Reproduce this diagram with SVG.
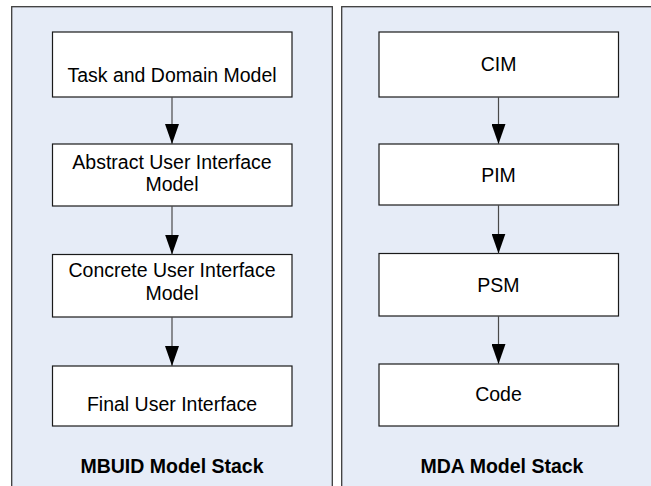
<svg xmlns="http://www.w3.org/2000/svg" width="651" height="486" viewBox="0 0 651 486">
<style>
.panel{fill:#e6ecf7;stroke:#3c3c3c;stroke-width:1.3}
.box{fill:#ffffff;stroke:#1a1a1a;stroke-width:1.2}
.t{font-family:"Liberation Sans",Arial,sans-serif;font-size:19.5px;fill:#000;text-anchor:middle}
.b{font-family:"Liberation Sans",Arial,sans-serif;font-size:19.5px;font-weight:bold;fill:#000;text-anchor:middle}
.c{stroke:#4a4a4a;stroke-width:1.2;fill:none;marker-end:url(#ah)}
</style>
<defs>
<marker id="ah" markerUnits="userSpaceOnUse" markerWidth="20" markerHeight="14" refX="20" refY="7" orient="auto" viewBox="0 0 20 14">
<path d="M0,0 L20,7 L0,14 Z" fill="#000"/>
</marker>
</defs>
<g id="panel-mbuid">
<rect class="panel" x="11.7" y="6.7" width="320.6" height="500"/>
<text class="b" x="172" y="473">MBUID Model Stack</text>
</g>
<g id="panel-mda">
<rect class="panel" x="341.7" y="6.7" width="330" height="500"/>
<text class="b" x="502" y="473">MDA Model Stack</text>
</g>
<g id="task-domain">
<rect class="box" x="52.5" y="32" width="239.5" height="65"/>
<text class="t" x="172" y="82">Task and Domain Model</text>
</g>
<g id="abstract-ui">
<rect class="box" x="52.5" y="144" width="239.5" height="62"/>
<text class="t" x="172" y="168.5">Abstract User Interface</text>
<text class="t" x="172" y="190.5">Model</text>
</g>
<g id="concrete-ui">
<rect class="box" x="52.5" y="254.5" width="239.5" height="62.5"/>
<text class="t" x="172" y="277">Concrete User Interface</text>
<text class="t" x="172" y="300">Model</text>
</g>
<g id="final-ui">
<rect class="box" x="52.5" y="366" width="239.5" height="60"/>
<text class="t" x="172" y="411">Final User Interface</text>
</g>
<g id="cim">
<rect class="box" x="379" y="32" width="239.5" height="65"/>
<text class="t" x="498.5" y="71">CIM</text>
</g>
<g id="pim">
<rect class="box" x="379" y="144" width="239.5" height="61"/>
<text class="t" x="498.5" y="182">PIM</text>
</g>
<g id="psm">
<rect class="box" x="379" y="253.5" width="239.5" height="62.5"/>
<text class="t" x="498.5" y="292">PSM</text>
</g>
<g id="code">
<rect class="box" x="379" y="364" width="239.5" height="62"/>
<text class="t" x="498.5" y="401">Code</text>
</g>
<g id="connectors">
<path class="c" d="M172,97 V144"/>
<path class="c" d="M172,206 V254.5"/>
<path class="c" d="M172,317 V366"/>
<path class="c" d="M498.5,97 V144"/>
<path class="c" d="M498.5,205 V253.5"/>
<path class="c" d="M498.5,316 V364"/>
</g>
</svg>
